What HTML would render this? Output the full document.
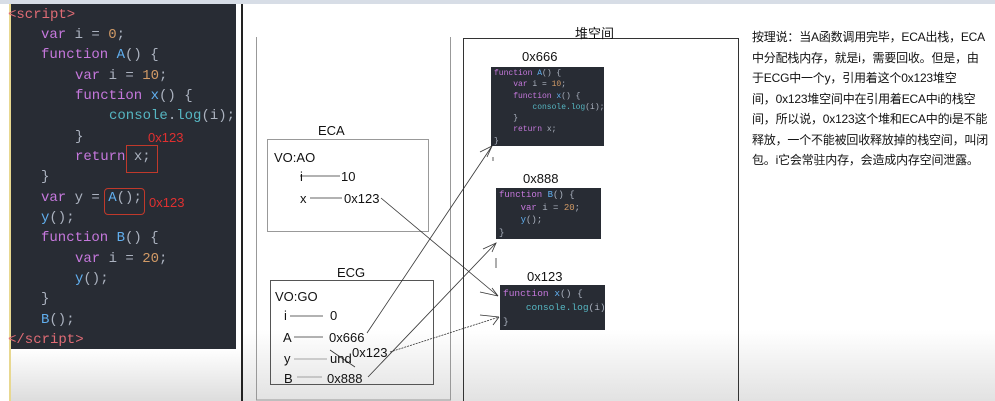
<!DOCTYPE html>
<html><head><meta charset="utf-8"><style>
body{margin:0;width:995px;height:401px;overflow:hidden;background:#fff;position:relative;font-family:"Liberation Sans","Noto Sans CJK SC",sans-serif}
.a{position:absolute}
#code{left:11px;top:4px;width:225px;height:345px;background:#282c34;font-family:"Liberation Mono",monospace;font-size:14px;color:#abb2bf}
#code div{position:absolute;white-space:pre;height:20px;line-height:20px}
.k{color:#c678dd}.f{color:#61afef}.n{color:#d19a66}.c{color:#56b6c2}.t{color:#e06c75}
.mc{background:#282c34;font-family:"Liberation Mono",monospace;font-size:8px;color:#abb2bf;white-space:pre;line-height:11.3px;padding:1px 3px;box-sizing:border-box;overflow:hidden}
.lbl{font-size:13px;color:#111}
.r{position:absolute;font-size:12px;letter-spacing:-0.2px;color:#111;white-space:nowrap}
</style></head><body>
<div class="a" style="left:0;top:0;width:995px;height:4px;background:#d7dde6"></div>
<div class="a" style="left:9px;top:4px;width:2px;height:397px;background:#e8d890"></div>
<div class="a" style="left:11px;top:349px;width:231px;height:52px;background:linear-gradient(#fff,#ddd)"></div>
<div class="a" style="left:241px;top:4px;width:2px;height:397px;background:#222"></div>
<div class="a" style="left:243px;top:330px;width:752px;height:71px;background:linear-gradient(#fff,#e2e2e2)"></div>
<div id="code" class="a">
<div style="left:-3px;top:1px"><span class="t">&lt;script&gt;</span></div>
<div style="left:30px;top:21px"><span class="k">var</span> i = <span class="n">0</span>;</div>
<div style="left:30px;top:41px"><span class="k">function</span> <span class="f">A</span>() {</div>
<div style="left:64px;top:62px"><span class="k">var</span> i = <span class="n">10</span>;</div>
<div style="left:64px;top:82px"><span class="k">function</span> <span class="f">x</span>() {</div>
<div style="left:98px;top:102px"><span class="c">console</span>.<span class="c">log</span>(i);</div>
<div style="left:64px;top:123px">}</div>
<div style="left:64px;top:143px"><span class="k">return</span> x;</div>
<div style="left:30px;top:163px">}</div>
<div style="left:30px;top:184px"><span class="k">var</span> y = <span class="f">A</span>();</div>
<div style="left:30px;top:204px"><span class="f">y</span>();</div>
<div style="left:30px;top:224px"><span class="k">function</span> <span class="f">B</span>() {</div>
<div style="left:64px;top:245px"><span class="k">var</span> i = <span class="n">20</span>;</div>
<div style="left:64px;top:265px"><span class="f">y</span>();</div>
<div style="left:30px;top:285px">}</div>
<div style="left:30px;top:306px"><span class="f">B</span>();</div>
<div style="left:-3px;top:326px"><span class="t">&lt;/script&gt;</span></div>
<div style="left:137px;top:124px;color:#e03030;font-family:'Liberation Sans';font-size:13px">0x123</div>
<div style="left:138px;top:189px;color:#e03030;font-family:'Liberation Sans';font-size:13px">0x123</div>
</div>
<div class="a" style="left:126px;top:145px;width:30px;height:26px;border:1px solid #c0392b"></div>
<div class="a" style="left:104px;top:188px;width:39px;height:25px;border:1px solid #c0392b;border-radius:4px"></div>

<svg class="a" style="left:0;top:0" width="995" height="401">
<g stroke="#999" fill="none" stroke-width="1">
<path d="M256.5 37V400H450.5V37"/>
<rect x="267.5" y="139.5" width="161" height="92" stroke="#999"/>
<rect x="270.5" y="280.5" width="163" height="104" stroke="#555"/>
</g>
<path d="M463.5 401V38.5H738.5V401" stroke="#333" fill="none"/>
<g stroke="#333" stroke-width="0.8" fill="none">
<line x1="300" y1="176" x2="340" y2="176"/>
<line x1="310" y1="198" x2="342" y2="198"/>
<line x1="290" y1="316" x2="323" y2="316"/>
<line x1="294" y1="337" x2="323" y2="337"/>
<line x1="294" y1="359" x2="327" y2="359" stroke="#888"/>
<line x1="297" y1="377" x2="322" y2="377" stroke="#888"/>
<line x1="381" y1="198" x2="498" y2="296"/>
<line x1="367" y1="333" x2="492" y2="146"/>
<line x1="368" y1="377" x2="496" y2="243"/>
<line x1="390" y1="352" x2="499" y2="317" stroke-dasharray="2 1"/>
<line x1="330" y1="350" x2="355" y2="367"/>
<path d="M480 152L492 146L487 157M493 161V157" />
<path d="M483 249L496 243L492 252M496 268V258" />
<path d="M480 292L498 296M492 288L498 296" />
<path d="M480 315L499 317M493 325L499 317" />
</g>
</svg>

<div class="a lbl" style="left:318px;top:123px">ECA</div>
<div class="a lbl" style="left:274px;top:150px">VO:AO</div>
<div class="a lbl" style="left:300px;top:169px">i</div>
<div class="a lbl" style="left:341px;top:169px">10</div>
<div class="a lbl" style="left:300px;top:191px">x</div>
<div class="a lbl" style="left:344px;top:191px">0x123</div>
<div class="a lbl" style="left:337px;top:265px">ECG</div>
<div class="a lbl" style="left:275px;top:289px">VO:GO</div>
<div class="a lbl" style="left:284px;top:308px">i</div>
<div class="a lbl" style="left:330px;top:308px">0</div>
<div class="a lbl" style="left:283px;top:330px">A</div>
<div class="a lbl" style="left:329px;top:330px">0x666</div>
<div class="a lbl" style="left:284px;top:351px">y</div>
<div class="a lbl" style="left:330px;top:351px">und</div>
<div class="a lbl" style="left:352px;top:345px">0x123</div>
<div class="a lbl" style="left:284px;top:371px">B</div>
<div class="a lbl" style="left:327px;top:371px">0x888</div>
<div class="a lbl" style="left:575px;top:23px">堆空间</div>
<div class="a lbl" style="left:522px;top:49px">0x666</div>
<div class="a lbl" style="left:523px;top:171px">0x888</div>
<div class="a lbl" style="left:527px;top:269px">0x123</div>

<div class="a mc" style="left:491px;top:67px;width:113px;height:79px"><span class="k">function</span> <span class="f">A</span>() {
    <span class="k">var</span> i = <span class="n">10</span>;
    <span class="k">function</span> <span class="f">x</span>() {
        <span class="c">console.log</span>(i);
    }
    <span class="k">return</span> x;
}</div>
<div class="a mc" style="left:496px;top:188px;width:105px;height:51px;font-size:9px;line-height:12.5px"><span class="k">function</span> <span class="f">B</span>() {
    <span class="k">var</span> i = <span class="n">20</span>;
    <span class="f">y</span>();
}</div>
<div class="a mc" style="left:500px;top:285px;width:105px;height:45px;font-size:9.5px;line-height:14px;padding-top:2px"><span class="k">function</span> <span class="f">x</span>() {
    <span class="c">console.log</span>(i);
}</div>

<div class="r" style="left:752px;top:28px">按理说：当A函数调用完毕，ECA出栈，ECA</div>
<div class="r" style="left:752px;top:49px">中分配栈内存，就是i，需要回收。但是，由</div>
<div class="r" style="left:752px;top:69px">于ECG中一个y，引用着这个0x123堆空</div>
<div class="r" style="left:752px;top:90px">间，0x123堆空间中在引用着ECA中i的栈空</div>
<div class="r" style="left:752px;top:110px">间，所以说，0x123这个堆和ECA中的i是不能</div>
<div class="r" style="left:752px;top:131px">释放，一个不能被回收释放掉的栈空间，叫闭</div>
<div class="r" style="left:752px;top:151px">包。i它会常驻内存，会造成内存空间泄露。</div>
</body></html>
